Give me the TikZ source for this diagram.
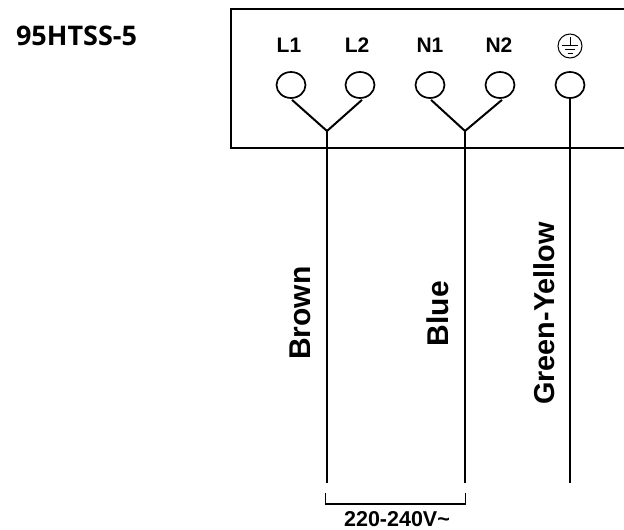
\documentclass[tikz,border=0pt]{standalone}
\usepackage{fontspec}
\usetikzlibrary{shapes.geometric}
\setmainfont{Liberation Sans}
\newfontfamily\titlefont{Open Sans}
\begin{document}
\begin{tikzpicture}[x=1pt,y=-1pt,
  wire/.style={line width=2pt,black},
  term/.style={draw,ellipse,line width=1.7pt,minimum width=29pt,minimum height=26pt,inner sep=0pt},
  lab/.style={font=\bfseries\fontsize{21}{21}\selectfont,inner sep=0pt},
  vlab/.style={font=\bfseries\fontsize{30}{30}\selectfont,rotate=90,inner sep=0pt}]
\useasboundingbox (0,0) rectangle (624,530);
\fill[white] (0,0) rectangle (624,530);
\node[font=\titlefont\bfseries\fontsize{27}{27}\selectfont,inner sep=0pt] (title) at (76.5,36) {95HTSS-5};
\coordinate (boxtl) at (231,9);
\coordinate (boxbl) at (231,148);
\coordinate (boxtr) at (624,9);
\coordinate (boxbr) at (624,148);
\draw[wire] (boxtr) -- (boxtl) -- (boxbl) -- (boxbr);
\node[lab] (l1) at (289,45) {L1};
\node[lab] (l2) at (357,45) {L2};
\node[lab] (n1) at (430,45) {N1};
\node[lab] (n2) at (499,45) {N2};
\node[draw,circle,line width=1pt,minimum size=24pt,inner sep=0pt] (pe) at (570,46) {};
\draw[line width=1pt] (570,37) -- (570,45) (562,45) -- (578,45) (565,49) -- (575,49) (567.5,53) -- (572.5,53);
\node[term] (t1) at (291,85) {};
\node[term] (t2) at (360,85) {};
\node[term] (t3) at (430,85) {};
\node[term] (t4) at (500,85) {};
\node[term] (t5) at (570,85) {};
\coordinate (j1) at (327,131);
\coordinate (j2) at (465,131);
\coordinate (e1) at (327,483);
\coordinate (e2) at (465,483);
\coordinate (e3) at (570,483);
\draw[wire] (t1.south) ++(1,1) -- (j1);
\draw[wire] (t2.south) ++(2,1) -- (j1);
\draw[wire] (t3.south) ++(1,1) -- (j2);
\draw[wire] (t4.south) ++(2,1) -- (j2);
\draw[wire] (j1) -- (e1);
\draw[wire] (j2) -- (e2);
\draw[wire] (t5.south) -- (e3);
\node[vlab] (brown) at (300,313) {Brown};
\node[vlab] (blue) at (438,313.5) {Blue};
\node[vlab,font=\bfseries\fontsize{28.8}{28.8}\selectfont] (gy) at (544,313.5) {Green-Yellow};
\coordinate (b1) at (325.5,493);
\coordinate (b2) at (465.5,493);
\draw[line width=1.8pt] (b1) -- ++(0,11) -| (b2);
\node[font=\bfseries\fontsize{21.5}{21.5}\selectfont,inner sep=0pt] (v) at (397,519.5) {220-240V\char`~};
\end{tikzpicture}
\end{document}
